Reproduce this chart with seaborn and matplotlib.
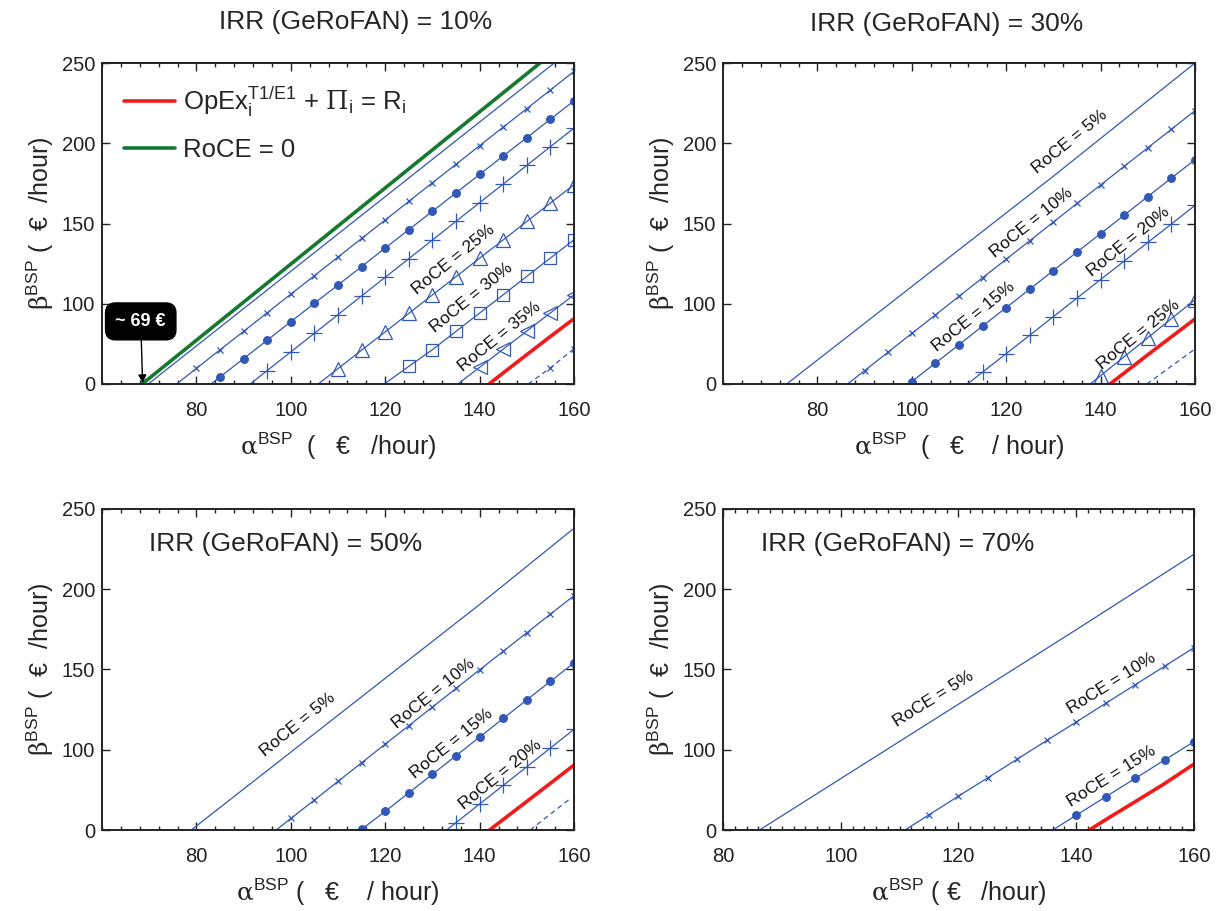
import seaborn as sns
import matplotlib.pyplot as plt
from matplotlib.ticker import FixedLocator, MultipleLocator

# The y axis is linear, but its bottom tick is labelled "0" although it sits
# one 50-step below 100, so all y values are read on that scale (bottom = 50).

# ---- IRR (GeRoFAN) = 10 % ----
irr10_green_x = [68.5, 152.8]
irr10_green_y = [50, 250]
irr10_red_x = [142, 146, 150, 155, 160]
irr10_red_y = [50, 59.2, 68.3, 79.6, 90.7]
irr10_r05_x = [69.8, 155.8]
irr10_r05_y = [50, 250]
irr10_r10_x = [75.8, 80, 85, 90, 95, 100, 105, 110, 115, 120, 125, 130, 135, 140, 145, 150, 155, 160]
irr10_r10_y = [50, 59.7, 71.3, 82.8, 94.4, 106.0, 117.5, 129.1, 140.7, 152.2, 163.8, 175.4, 186.9, 198.5,
               210.1, 221.6, 233.2, 244.8]
irr10_r15_x = [83.1, 85, 90, 95, 100, 105, 110, 115, 120, 125, 130, 135, 140, 145, 150, 155, 160]
irr10_r15_y = [50, 54.4, 65.8, 77.3, 88.8, 100.3, 111.7, 123.2, 134.7, 146.2, 157.6, 169.1, 180.6, 192.1,
               203.5, 215.0, 226.5]
irr10_r20_x = [91.4, 95, 100, 105, 110, 115, 120, 125, 130, 135, 140, 145, 150, 155, 160]
irr10_r20_y = [50, 58.4, 70.0, 81.6, 93.2, 104.9, 116.5, 128.1, 139.7, 151.4, 163.0, 174.6, 186.2, 197.9, 209.5]
irr10_r25_x = [105.8, 110, 115, 120, 125, 130, 135, 140, 145, 150, 155, 160]
irr10_r25_y = [50, 59.6, 71.1, 82.5, 94.0, 105.5, 116.9, 128.4, 139.8, 151.3, 162.8, 174.2]
irr10_r30_x = [119.8, 125, 130, 135, 140, 145, 150, 155, 160]
irr10_r30_y = [50, 61.0, 71.4, 82.8, 94.2, 105.6, 117.1, 128.5, 139.9]
irr10_r35_x = [135.4, 140, 145, 150, 155, 160]
irr10_r35_y = [50, 60.4, 71.7, 83.0, 94.3, 105.6]
irr10_r40_x = [150.3, 155, 160]
irr10_r40_y = [50, 60, 72]
irr10_label_x = [134.4, 138.3, 144.3]
irr10_label_y = [127.4, 103.8, 79.7]
irr10_label_text = ['RoCE = 25%', 'RoCE = 30%', 'RoCE = 35%']

# ---- IRR (GeRoFAN) = 30 % ----
irr30_red_x = [142, 146, 150, 155, 160]
irr30_red_y = [50, 59.1, 68.2, 79.4, 90.5]
irr30_r05_x = [73.5, 130, 160]
irr30_r05_y = [50, 179.5, 250]
irr30_r10_x = [86.4, 90, 95, 100, 105, 110, 115, 120, 125, 130, 135, 140, 145, 150, 155, 160]
irr30_r10_y = [50, 58.3, 69.9, 81.5, 93.0, 104.6, 116.2, 127.7, 139.3, 150.9, 162.5, 174.0, 185.6, 197.2,
               208.7, 220.3]
irr30_r15_x = [99.3, 100, 105, 110, 115, 120, 125, 130, 135, 140, 145, 150, 155, 160]
irr30_r15_y = [50, 51.5, 63.0, 74.5, 86.1, 97.6, 109.1, 120.7, 132.2, 143.7, 155.2, 166.8, 178.3, 189.8]
irr30_r20_x = [111.8, 115, 120, 125, 130, 135, 140, 145, 150, 155, 160]
irr30_r20_y = [50, 57.4, 68.9, 80.4, 92.0, 103.5, 115.1, 126.6, 138.2, 149.7, 161.3]
irr30_r25_x = [137.8, 140, 145, 150, 155, 160]
irr30_r25_y = [50, 55.2, 67.0, 78.8, 90.7, 102.5]
irr30_r30_x = [149.8, 160]
irr30_r30_y = [50, 71.8]
irr30_label_x = [133.5, 125.4, 113.0, 145.9, 148.0]
irr30_label_y = [201.2, 150.3, 92.1, 138.8, 80.7]
irr30_label_text = ['RoCE = 5%', 'RoCE = 10%', 'RoCE = 15%', 'RoCE = 20%', 'RoCE = 25%']

# ---- IRR (GeRoFAN) = 50 % ----
irr50_red_x = [142.1, 146, 150, 155, 160]
irr50_red_y = [50, 58.8, 67.8, 79.1, 90.5]
irr50_r05_x = [78.9, 140, 160]
irr50_r05_y = [50, 190.5, 238]
irr50_r10_x = [96.9, 100, 105, 110, 115, 120, 125, 130, 135, 140, 145, 150, 155, 160]
irr50_r10_y = [50, 57.2, 68.7, 80.3, 91.9, 103.5, 115.0, 126.6, 138.2, 149.8, 161.3, 172.9, 184.5, 196.0]
irr50_r15_x = [114.7, 115, 120, 125, 130, 135, 140, 145, 150, 155, 160]
irr50_r15_y = [50, 50.5, 61.6, 73.2, 84.7, 96.3, 107.9, 119.5, 131.1, 142.6, 154.2]
irr50_r20_x = [133.0, 135, 140, 145, 150, 155, 160]
irr50_r20_y = [50, 54.6, 66.2, 77.8, 89.4, 101.1, 112.7]
irr50_r25_x = [150.7, 159]
irr50_r25_y = [50, 69.1]
irr50_label_x = [101.5, 130.2, 134.1, 144.3]
irr50_label_y = [115.4, 135.2, 104.0, 84.3]
irr50_label_text = ['RoCE = 5%', 'RoCE = 10%', 'RoCE = 15%', 'RoCE = 20%']

# ---- IRR (GeRoFAN) = 70 % ----
irr70_red_x = [142.2, 146, 150, 155, 160]
irr70_red_y = [50, 58.7, 67.6, 78.9, 91.1]
irr70_r05_x = [86.2, 140, 160]
irr70_r05_y = [50, 174.8, 221.8]
irr70_r10_x = [110.9, 115, 120, 125, 130, 135, 140, 145, 150, 155, 160]
irr70_r10_y = [50, 59.5, 71.1, 82.6, 94.2, 105.8, 117.3, 128.9, 140.5, 152.0, 163.6]
irr70_r15_x = [136.0, 140, 145, 150, 155, 160]
irr70_r15_y = [50, 59.2, 70.7, 82.1, 93.6, 105.0]
irr70_label_x = [115.7, 146.0, 146.0]
irr70_label_y = [131.6, 141.4, 83.2]
irr70_label_text = ['RoCE = 5%', 'RoCE = 10%', 'RoCE = 15%']

y_ticks = [50, 100, 150, 200, 250]
y_tick_labels = ['0', '100', '150', '200', '250']

BLUE = '#3158b4'
RED = '#f21b1b'
GREEN = '#17782f'


def draw(ax, x, y, marker=None, filled=True, ms=6, ls='-', lw=0.9, color=BLUE, label=None):
    kws = dict(color=color, lw=lw, ls=ls)
    if marker is not None:
        kws.update(marker=marker, markevery=list(range(1, len(x))), ms=ms,
                   mec=color, mew=0.9, mfc=color if filled else 'none')
    sns.lineplot(x=x, y=y, ax=ax, sort=False, estimator=None, label=label, legend=False, **kws)
    return ax.lines[-1]


def style_axes(ax, xlim, minor):
    ax.set_xlim(*xlim)
    ax.set_ylim(50, 250)
    ax.xaxis.set_major_locator(FixedLocator([80, 100, 120, 140, 160]))
    ax.xaxis.set_minor_locator(MultipleLocator(minor))
    ax.yaxis.set_major_locator(FixedLocator(y_ticks))
    ax.set_yticklabels(y_tick_labels)
    ax.tick_params(which='both', direction='in', top=True, right=True, labelsize=14.5, colors='#222222')
    ax.tick_params(which='major', length=6, width=1)
    ax.tick_params(which='minor', length=3, width=1)
    ax.tick_params(axis='x', pad=12)
    ax.tick_params(axis='y', pad=5)
    for sp in ax.spines.values():
        sp.set_linewidth(1.4)
        sp.set_color('#222222')
    ax.set_ylabel(r'$\mathrm{\beta}^{\mathsf{BSP}}$ (  €  /hour)', fontsize=18, labelpad=4)


def add_labels(ax, xs, ys, texts, angle):
    for x, y, t in zip(xs, ys, texts):
        ax.text(x, y, t, rotation=angle, rotation_mode='anchor', ha='center', va='center',
                fontsize=12.5, color='#111111')


def main():
    sns.set_style('ticks')
    plt.rcParams['font.family'] = ['Liberation Sans', 'DejaVu Sans']
    plt.rcParams['mathtext.fontset'] = 'custom'
    plt.rcParams['mathtext.rm'] = 'DejaVu Serif'
    plt.rcParams['mathtext.sf'] = 'Liberation Sans'
    plt.rcParams['mathtext.it'] = 'Liberation Sans:italic'

    fig = plt.figure(figsize=(12.19, 9.11), dpi=100)
    ax1 = fig.add_axes([0.0837, 0.5785, 0.3872, 0.3523])
    ax2 = fig.add_axes([0.5931, 0.5785, 0.3872, 0.3523])
    ax3 = fig.add_axes([0.0837, 0.0889, 0.3872, 0.3524])
    ax4 = fig.add_axes([0.5931, 0.0889, 0.3864, 0.3524])

    # IRR = 10 %
    draw(ax1, irr10_r05_x, irr10_r05_y)
    draw(ax1, irr10_r10_x, irr10_r10_y, 'x', ms=5)
    draw(ax1, irr10_r15_x, irr10_r15_y, 'o', ms=5.5)
    draw(ax1, irr10_r20_x, irr10_r20_y, '+', ms=11)
    draw(ax1, irr10_r25_x, irr10_r25_y, '^', filled=False, ms=10)
    draw(ax1, irr10_r30_x, irr10_r30_y, 's', filled=False, ms=9)
    draw(ax1, irr10_r35_x, irr10_r35_y, '<', filled=False, ms=10)
    draw(ax1, irr10_r40_x, irr10_r40_y, 'x', ms=5, ls=(0, (4, 3)))
    h_red = draw(ax1, irr10_red_x, irr10_red_y, color=RED, lw=2.6,
                 label=r'OpEx$_{\mathsf{i}}^{\mathsf{T1/E1}}$ + $\mathrm{\Pi}_{\mathsf{i}}$ = R$_{\mathsf{i}}$')
    h_green = draw(ax1, irr10_green_x, irr10_green_y, color=GREEN, lw=2.6, label='RoCE = 0')
    add_labels(ax1, irr10_label_x, irr10_label_y, irr10_label_text, 39)
    ax1.legend(handles=[h_red, h_green], loc='upper left', frameon=False, fontsize=18.5,
               handlelength=2.0, handletextpad=0.3, labelspacing=0.75, borderaxespad=0.45)
    ax1.annotate('~ 69 €', xy=(68.6, 50.5), xytext=(68.2, 89), ha='center', va='center',
                 fontsize=13, fontweight='bold', color='white',
                 bbox=dict(boxstyle='round,pad=0.55', fc='black', ec='black'),
                 arrowprops=dict(arrowstyle='-|>', color='black', lw=1, mutation_scale=12, shrinkA=0, shrinkB=0))
    style_axes(ax1, (60, 160), 4)
    ax1.set_xlabel(r'$\mathrm{\alpha}^{\mathsf{BSP}}$  (   €   /hour)', fontsize=18, labelpad=8)

    # IRR = 30 %
    draw(ax2, irr30_r05_x, irr30_r05_y)
    draw(ax2, irr30_r10_x, irr30_r10_y, 'x', ms=5)
    draw(ax2, irr30_r15_x, irr30_r15_y, 'o', ms=5.5)
    draw(ax2, irr30_r20_x, irr30_r20_y, '+', ms=11)
    draw(ax2, irr30_r25_x, irr30_r25_y, '^', filled=False, ms=10)
    draw(ax2, irr30_r30_x, irr30_r30_y, ls=(0, (4, 3)))
    draw(ax2, irr30_red_x, irr30_red_y, color=RED, lw=2.6)
    add_labels(ax2, irr30_label_x, irr30_label_y, irr30_label_text, 39)
    style_axes(ax2, (60, 160), 4)
    ax2.set_xlabel(r'$\mathrm{\alpha}^{\mathsf{BSP}}$  (   €    / hour)', fontsize=18, labelpad=8)

    # IRR = 50 %
    draw(ax3, irr50_r05_x, irr50_r05_y)
    draw(ax3, irr50_r10_x, irr50_r10_y, 'x', ms=5)
    draw(ax3, irr50_r15_x, irr50_r15_y, 'o', ms=5.5)
    draw(ax3, irr50_r20_x, irr50_r20_y, '+', ms=11)
    draw(ax3, irr50_r25_x, irr50_r25_y, ls=(0, (4, 3)))
    draw(ax3, irr50_red_x, irr50_red_y, color=RED, lw=2.6)
    add_labels(ax3, irr50_label_x, irr50_label_y, irr50_label_text, 39)
    style_axes(ax3, (60, 160), 4)
    ax3.set_xlabel(r'$\mathrm{\alpha}^{\mathsf{BSP}}$ (   €    / hour)', fontsize=18, labelpad=8)
    ax3.text(0.1, 0.89, 'IRR (GeRoFAN) = 50%', transform=ax3.transAxes, fontsize=19, va='center')

    # IRR = 70 %
    draw(ax4, irr70_r05_x, irr70_r05_y)
    draw(ax4, irr70_r10_x, irr70_r10_y, 'x', ms=5)
    draw(ax4, irr70_r15_x, irr70_r15_y, 'o', ms=5.5)
    draw(ax4, irr70_red_x, irr70_red_y, color=RED, lw=2.6)
    add_labels(ax4, irr70_label_x, irr70_label_y, irr70_label_text, 32)
    style_axes(ax4, (80, 160), 2)
    ax4.set_xlabel(r'$\mathrm{\alpha}^{\mathsf{BSP}}$ ( €   /hour)', fontsize=18, labelpad=8)
    ax4.text(0.08, 0.89, 'IRR (GeRoFAN) = 70%', transform=ax4.transAxes, fontsize=19, va='center')

    fig.text(356 / 1219, 1 - 22 / 911, 'IRR (GeRoFAN) = 10%', ha='center', va='center', fontsize=19)
    fig.text(947 / 1219, 1 - 24 / 911, 'IRR (GeRoFAN) = 30%', ha='center', va='center', fontsize=19)

    fig.savefig('out.png', dpi=100)


if __name__ == "__main__":
    main()
